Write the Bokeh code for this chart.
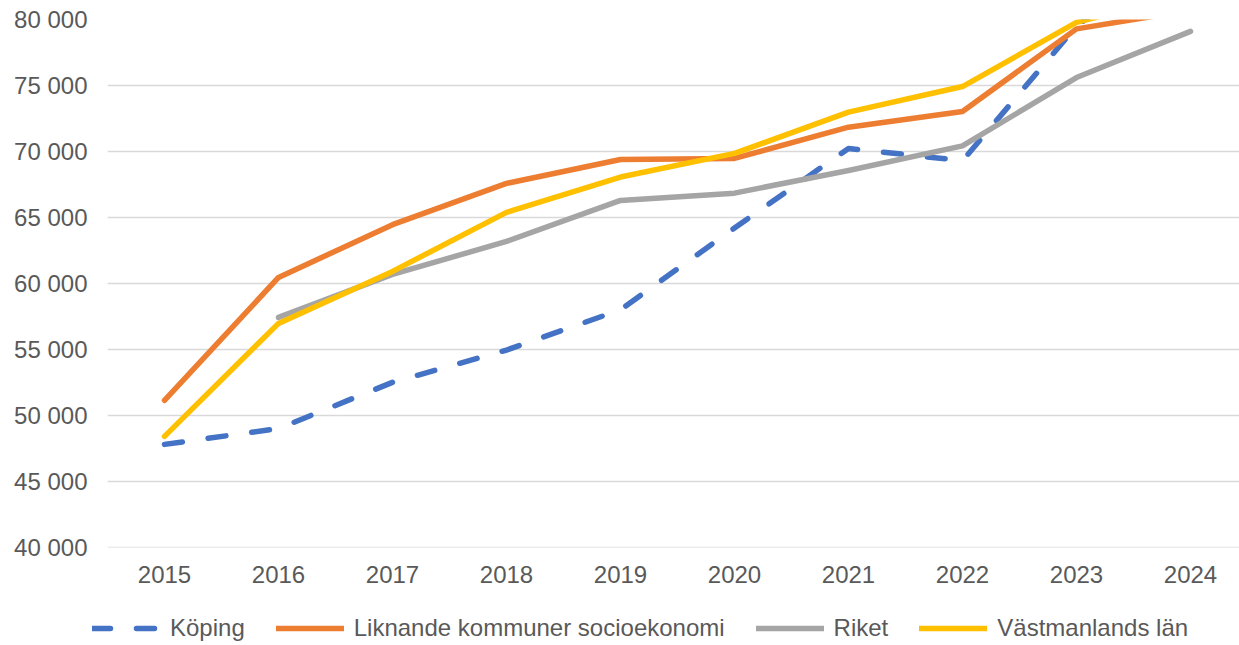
from bokeh.plotting import figure
from bokeh.models import Range1d, FixedTicker, Legend, LegendItem
from bokeh.layouts import column
from bokeh.embed import file_html
from bokeh.resources import INLINE

years = [2015, 2016, 2017, 2018, 2019, 2020, 2021, 2022, 2023, 2024]
koping = [47800, 49000, 52500, 54950, 58000, 64200, 70230, 69300, 79500, 86000]
liknande = [51140, 60450, 64450, 67580, 69390, 69470, 71840, 73030, 79290, 80700]
riket = [float("nan"), 57420, 60680, 63180, 66290, 66840, 68560, 70420, 75600, 79100]
vastmanland = [48410, 56970, 60910, 65380, 68060, 69850, 72980, 74920, 79780, 82000]

series_names = ["Köping", "Liknande kommuner socioekonomi", "Riket", "Västmanlands län"]
series_colors = ["#4472C4", "#ED7D31", "#A5A5A5", "#FFC000"]

y_ticks = [40000, 45000, 50000, 55000, 60000, 65000, 70000, 75000, 80000]
y_tick_labels = ["40 000", "45 000", "50 000", "55 000", "60 000", "65 000", "70 000", "75 000", "80 000"]

FONT = "Liberation Sans"
TXT = "#595959"
W = 1239
MAIN_H = 595
LEG_H = 645 - MAIN_H

p = figure(width=W, height=MAIN_H, output_backend="svg", toolbar_location=None,
           x_range=Range1d(2014.5, 2024.43), y_range=Range1d(39985, 80000),
           min_border_left=107, min_border_right=0, min_border_top=19, min_border_bottom=48)
p.outline_line_color = None
p.background_fill_color = "white"
p.border_fill_color = "white"

p.xgrid.grid_line_color = None
p.ygrid.grid_line_color = "#D9D9D9"
p.ygrid.grid_line_width = 1.5
p.ygrid.ticker = FixedTicker(ticks=y_ticks)

p.yaxis.ticker = FixedTicker(ticks=y_ticks)
p.yaxis.major_label_overrides = {t: l for t, l in zip(y_ticks, y_tick_labels)}
p.xaxis.ticker = FixedTicker(ticks=years)
p.xaxis.major_label_overrides = {y: str(y) for y in years}
for ax in (p.xaxis, p.yaxis):
    ax.axis_line_color = None
    ax.major_tick_line_color = None
    ax.minor_tick_line_color = None
    ax.major_tick_out = 0
    ax.minor_tick_out = 0
    ax.major_tick_in = 0
    ax.minor_tick_in = 0
    ax.major_label_text_font = FONT
    ax.major_label_text_font_size = "24px"
    ax.major_label_text_color = TXT
p.yaxis.major_label_standoff = 20
p.xaxis.major_label_standoff = 18

data = [koping, liknande, riket, vastmanland]


def style(i, col):
    kw = dict(line_color=col, line_width=5.5, line_join="round", line_cap="round")
    if i == 0:
        kw["line_dash"] = "18 26"
    return kw


for i, (vals, col) in enumerate(zip(data, series_colors)):
    p.line(years, vals, **style(i, col))

# legend strip below the chart (its own plot, so the legend may start left of the main frame)
lg = figure(width=W, height=LEG_H, output_backend="svg", toolbar_location=None,
            x_range=Range1d(0, 1), y_range=Range1d(0, 1),
            x_axis_type=None, y_axis_type=None,
            min_border=0, min_border_left=0, min_border_right=0,
            min_border_top=0, min_border_bottom=0)
for fig in (p, lg):
    if "frame_align" in type(fig).properties():
        fig.frame_align = False
lg.outline_line_color = None
lg.grid.visible = False
lg.background_fill_color = "white"
lg.border_fill_color = "white"
# same series, outside this strip's ranges: only their legend glyphs show
leg_renderers = [lg.line(years, vals, **style(i, col))
                 for i, (vals, col) in enumerate(zip(data, series_colors))]

legend = Legend(items=[LegendItem(label=n, renderers=[r]) for n, r in zip(series_names, leg_renderers)],
                orientation="horizontal", location=(92, 3),
                label_text_font=FONT, label_text_font_size="24px", label_text_color=TXT,
                glyph_width=68, glyph_height=24, label_height=24, label_standoff=10,
                spacing=31, padding=0, margin=0,
                border_line_color=None, background_fill_alpha=0)
lg.add_layout(legend, "center")

layout = column(p, lg, spacing=0)
open("out.html", "w").write(file_html(layout, INLINE))
